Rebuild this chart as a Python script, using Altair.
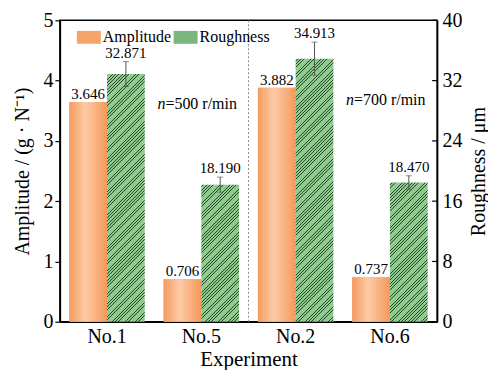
import altair as alt
import pandas as pd

# ---- data ----
experiments = ["No.1", "No.5", "No.2", "No.6"]
amplitude = [3.646, 0.706, 3.882, 0.737]
roughness = [32.871, 18.190, 34.913, 18.470]
roughness_err = [1.65, 1.0, 2.2, 0.9]
series = ["Amplitude", "Roughness"]
rough_ticks = [0, 8, 16, 24, 32, 40]
note_exp = ["No.5", "No.6"]
note_y = [3.62, 3.68]
note_text = ["=500 r/min", "=700 r/min"]

W, H = 378, 302
FONT = "'Liberation Serif', 'Times New Roman', Times, serif"
AMP_MAX, ROUGH_MAX = 5, 40
GREEN, HATCH = "#8FCB8F", "#2B4B2D"

amp_df = pd.DataFrame({"Experiment": experiments, "value": amplitude,
                       "Series": "Amplitude",
                       "label": [f"{v:.3f}" for v in amplitude]})
rough_df = pd.DataFrame({"Experiment": experiments, "value": roughness,
                         "err": roughness_err, "Series": "Roughness",
                         "label": [f"{v:.3f}" for v in roughness]})
rough_df["lo"] = rough_df["value"] - rough_df["err"]
rough_df["hi"] = rough_df["value"] + rough_df["err"]
note_df = pd.DataFrame({"Experiment": note_exp, "y": note_y, "text": note_text})
tick_df = pd.DataFrame({"t": rough_ticks})
one_df = pd.DataFrame({"a": [0]})

x_enc = alt.X("Experiment:N", sort=experiments,
              scale=alt.Scale(domain=experiments, paddingInner=0.2, paddingOuter=0.1),
              axis=alt.Axis(title="Experiment", ticks=False, labelAngle=0,
                            labelFontSize=20, titleFontSize=21, labelPadding=5,
                            titlePadding=2, labelFont=FONT, titleFont=FONT,
                            titleFontWeight="normal", labelColor="black",
                            titleColor="black", domainColor="black", domainWidth=1.5))
xoff = alt.XOffset("Series:N", scale=alt.Scale(domain=series, paddingInner=0, paddingOuter=0))

amp_scale = alt.Scale(domain=[0, AMP_MAX], nice=False, zero=True)
rough_scale = alt.Scale(domain=[0, ROUGH_MAX], nice=False, zero=True)

amp_axis = alt.Axis(title="Amplitude / (g · N⁻¹)", values=[0, 1, 2, 3, 4, 5],
                    grid=False, tickSize=5, tickWidth=1.2, tickColor="black",
                    labelFontSize=20, titleFontSize=20, labelPadding=2, titlePadding=10,
                    labelFont=FONT, titleFont=FONT, titleFontWeight="normal",
                    labelColor="black", titleColor="black", domainColor="black",
                    domainWidth=1.5)
rough_axis = alt.Axis(title="Roughness / μm", orient="right", values=rough_ticks,
                      grid=False, ticks=False, labelFontSize=20, titleFontSize=20,
                      labelPadding=5, titlePadding=6, labelFont=FONT, titleFont=FONT,
                      titleFontWeight="normal", titleAngle=270, titleBaseline="top",
                      labelColor="black", titleColor="black", domainColor="black",
                      domainWidth=1.5)

y_amp = alt.Y("value:Q", scale=amp_scale, axis=amp_axis)
y_rough = alt.Y("value:Q", scale=rough_scale, axis=rough_axis)

amp_grad = {"gradient": "linear", "x1": 0, "y1": 0, "x2": 1, "y2": 0,
            "stops": [{"offset": 0, "color": "#F59A5E"},
                      {"offset": 0.42, "color": "#FDCBA6"},
                      {"offset": 1, "color": "#F5985B"}]}

step = W / (len(experiments) - 0.2 + 0.2)
BAR_W = step * 0.8 / 2


def hatch(bw, bh, period=3.3, thick=0.75):
    denom = bw ** 2 + bh ** 2
    stops = [{"offset": 0, "color": GREEN}]
    d = period * 0.6
    while d + thick < bw + bh + period:
        s0 = min(1, bw * d / denom)
        s1 = min(1, bw * (d + thick) / denom)
        stops += [{"offset": round(s0, 6), "color": GREEN},
                  {"offset": round(s0, 6), "color": HATCH},
                  {"offset": round(s1, 6), "color": HATCH},
                  {"offset": round(s1, 6), "color": GREEN}]
        d += period
    stops.append({"offset": 1, "color": GREEN})
    return {"gradient": "linear", "x1": 0, "y1": 0, "x2": 1,
            "y2": round(bh / bw, 5), "stops": stops}


# ---- left (amplitude) group ----
legend_base = alt.Chart(amp_df).mark_bar().encode(
    x=x_enc, xOffset=xoff, y=y_amp,
    color=alt.Color("Series:N",
                    scale=alt.Scale(domain=series, range=["#F7A36C", "#7DB57E"]),
                    legend=alt.Legend(title=None, orient="none", legendX=17, legendY=5,
                                      direction="horizontal",
                                      symbolType="M-1,-0.54H1V0.54H-1Z", symbolSize=576,
                                      symbolStrokeWidth=0, labelFontSize=16,
                                      labelFont=FONT, labelColor="black",
                                      labelOffset=2, columnPadding=2)))
amp_bars = alt.Chart(amp_df).mark_bar(color=amp_grad).encode(x=x_enc, xOffset=xoff, y=y_amp)
amp_labels = alt.Chart(amp_df).mark_text(font=FONT, fontSize=15, color="black",
                                         baseline="alphabetic", dy=-3).encode(
    x=x_enc, xOffset=xoff, y=y_amp, text="label:N")
separator = alt.Chart(one_df).mark_rule(color="#8A8A8A", strokeDash=[2, 2], strokeWidth=1).encode(
    x=alt.value(W / 2), y=alt.value(0), y2=alt.value(H))
note_n = alt.Chart(note_df).mark_text(font=FONT, fontSize=16, fontStyle="italic",
                                      color="black", align="left", dx=-44).encode(
    x=x_enc, y=alt.Y("y:Q", scale=amp_scale, axis=amp_axis), text=alt.value("n"))
note_rest = alt.Chart(note_df).mark_text(font=FONT, fontSize=16, color="black",
                                         align="left", dx=-36).encode(
    x=x_enc, y=alt.Y("y:Q", scale=amp_scale, axis=amp_axis), text="text:N")
left = alt.layer(legend_base, amp_bars, amp_labels, separator, note_n, note_rest)

# ---- right (roughness) group ----
rough_layers = []
for exp, val in zip(experiments, roughness):
    rough_layers.append(
        alt.Chart(rough_df).transform_filter(alt.datum.Experiment == exp)
        .mark_bar(color=hatch(BAR_W, val / ROUGH_MAX * H))
        .encode(x=x_enc, xOffset=xoff, y=y_rough))
err_rule = alt.Chart(rough_df).mark_rule(color="#555555", strokeWidth=1).encode(
    x=x_enc, xOffset=xoff, y=alt.Y("lo:Q", scale=rough_scale, axis=rough_axis), y2="hi:Q")
cap_hi = alt.Chart(rough_df).mark_tick(color="#555555", thickness=1, size=6).encode(
    x=x_enc, xOffset=xoff, y=alt.Y("hi:Q", scale=rough_scale, axis=rough_axis))
cap_lo = alt.Chart(rough_df).mark_tick(color="#555555", thickness=1, size=6).encode(
    x=x_enc, xOffset=xoff, y=alt.Y("lo:Q", scale=rough_scale, axis=rough_axis))
rough_labels = alt.Chart(rough_df).mark_text(font=FONT, fontSize=15, color="black",
                                             baseline="alphabetic", dy=-4).encode(
    x=x_enc, xOffset=xoff, y=alt.Y("hi:Q", scale=rough_scale, axis=rough_axis),
    text="label:N")
right_ticks = alt.Chart(tick_df).mark_rule(color="black", strokeWidth=1.2).encode(
    y=alt.Y("t:Q", scale=rough_scale, axis=rough_axis),
    x=alt.value(W - 5), x2=alt.value(W))
right = alt.layer(*rough_layers, err_rule, cap_hi, cap_lo, rough_labels, right_ticks)

chart = alt.layer(left, right).resolve_scale(y="independent").properties(
    width=W, height=H, padding={"left": 5, "top": 2, "right": 0, "bottom": 0},
    background="white"
).configure_view(stroke="black", strokeWidth=1.5)

chart.save("out.html", embed_options={"renderer": "svg", "actions": False})
